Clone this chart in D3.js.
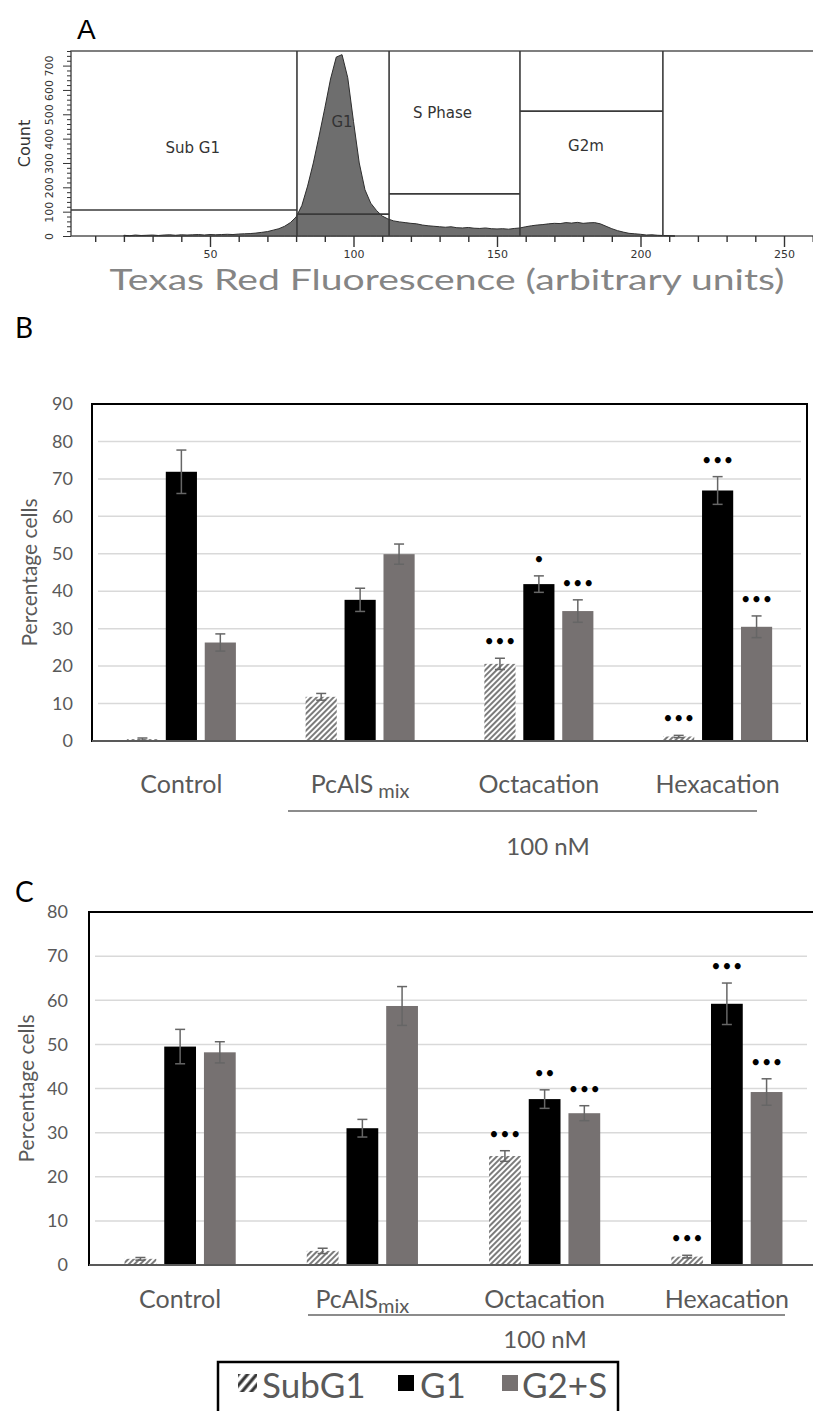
<!DOCTYPE html>
<html>
<head>
<meta charset="utf-8">
<script src="https://cdn.jsdelivr.net/npm/d3@7"></script>
<style>
  body { margin: 0; background: #fff; }
  svg { display: block; }
</style>
</head>
<body>
<div id="chart"></div>
<script>
const width = 813;
const height = 1411;

// ---------- panel A : DNA histogram ----------
const histBins = [
  20,22,24,26,28,30,32,34,36,38,
  40,42,44,46,48,50,52,54,56,58,
  60,62,64,66,68,70,72,74,76,78,
  80,82,84,86,88,90,92,94,96,98,
  100,102,104,106,108,110,112,114,116,118,
  120,122,124,126,128,130,132,134,136,138,
  140,142,144,146,148,150,152,154,156,158,
  160,162,164,166,168,170,172,174,176,178,
  180,182,184,186,188,190,192,194,196,198,
  200,202,204,206,208,210,212
];
const histCounts = [
  3,1,4,2,3,4,2,4,5,3,
  5,4,5,6,4,6,5,6,7,6,
  8,9,10,12,15,18,24,30,40,55,
  78,125,205,300,410,525,645,735,745,650,
  470,300,190,135,105,82,70,62,58,55,
  52,50,45,42,40,38,36,38,34,33,
  35,32,31,33,30,29,30,28,31,33,
  38,42,45,47,50,52,51,55,53,56,
  52,54,55,50,40,30,22,16,11,9,
  7,4,5,3,2,1,0
];
const gateNames = ["Sub G1", "G1", "S Phase", "G2m"];
const gateStart = [0, 80.3, 112.4, 158];
const gateEnd = [80.3, 112.4, 158, 207.8];
const gateLevel = [107, 90, 173, 513];
const gateLabelX = [44, 96, 131, 181];
const gateLabelY = [361, 468, 505, 370];
const xTicksA = [10,20,30,40,50,60,70,80,90,100,110,120,130,140,150,160,170,180,190,200,210,220,230,240,250,260];

// ---------- panels B and C : cell cycle bars ----------
const categories = ["Control", "PcAlS", "Octacation", "Hexacation"];
const series = ["SubG1", "G1", "G2+S"];

const bSubG1 = [0.5, 11.8, 20.6, 1.2];
const bSubG1Err = [0.3, 0.9, 1.5, 0.3];
const bSubG1Sig = [0, 0, 3, 3];
const bG1 = [71.9, 37.7, 41.9, 66.9];
const bG1Err = [5.8, 3.1, 2.2, 3.7];
const bG1Sig = [0, 0, 1, 3];
const bG2S = [26.3, 49.9, 34.7, 30.5];
const bG2SErr = [2.3, 2.7, 3.0, 2.9];
const bG2SSig = [0, 0, 3, 3];

const cSubG1 = [1.4, 3.2, 24.7, 1.9];
const cSubG1Err = [0.3, 0.6, 1.2, 0.3];
const cSubG1Sig = [0, 0, 3, 3];
const cG1 = [49.5, 31.0, 37.6, 59.2];
const cG1Err = [3.9, 2.0, 2.1, 4.7];
const cG1Sig = [0, 0, 2, 3];
const cG2S = [48.2, 58.7, 34.4, 39.2];
const cG2SErr = [2.4, 4.4, 1.7, 3.0];
const cG2SSig = [0, 0, 3, 3];

const barColor = {"SubG1": "url(#hatch)", "G1": "#000000", "G2+S": "#767171"};
const textGray = "#595959";

const svg = d3.select("#chart").append("svg")
  .attr("width", width)
  .attr("height", height);

// hatch patterns
const defs = svg.append("defs");
defs.append("pattern")
  .attr("id", "hatch")
  .attr("patternUnits", "userSpaceOnUse")
  .attr("width", 4).attr("height", 4)
  .attr("patternTransform", "rotate(45)")
  .call(p => p.append("rect").attr("width", 4).attr("height", 4).attr("fill", "#fff"))
  .append("line")
  .attr("x1", 1).attr("y1", 0).attr("x2", 1).attr("y2", 4)
  .attr("stroke", "#5a5a5a").attr("stroke-width", 1.6);
defs.append("pattern")
  .attr("id", "hatchBig")
  .attr("patternUnits", "userSpaceOnUse")
  .attr("width", 7).attr("height", 7)
  .attr("patternTransform", "rotate(40)")
  .append("line")
  .attr("x1", 2).attr("y1", 0).attr("x2", 2).attr("y2", 7)
  .attr("stroke", "#333").attr("stroke-width", 3.2);

// ================= panel A =================
const frameA = {left: 71, top: 51, right: 830, bottom: 236};
const xA = d3.scaleLinear().domain([0, 260]).range([66.5, 812.7]);
const yA = d3.scaleLinear().domain([0, 760]).range([frameA.bottom, frameA.top]);

svg.append("text")
  .attr("x", 77).attr("y", 39)
  .attr("font-family", "Liberation Sans, Arial, sans-serif")
  .attr("font-size", 28)
  .text("A");

svg.append("rect")
  .attr("x", frameA.left).attr("y", frameA.top)
  .attr("width", frameA.right - frameA.left)
  .attr("height", frameA.bottom - frameA.top)
  .attr("fill", "none").attr("stroke", "#555").attr("stroke-width", 1.5);

const histData = histBins.map((b, i) => ({x: b, c: histCounts[i]}));
const area = d3.area()
  .x(d => xA(d.x))
  .y0(yA(0))
  .y1(d => yA(d.c));
svg.append("path")
  .datum(histData)
  .attr("d", area)
  .attr("fill", "#6e6e6e")
  .attr("stroke", "#2e2e2e")
  .attr("stroke-width", 1);

// gates
gateNames.forEach((g, i) => {
  const gg = svg.append("g").attr("stroke", "#3a3a3a").attr("stroke-width", 1.6);
  gg.append("line")
    .attr("x1", Math.max(xA(gateStart[i]), frameA.left)).attr("x2", xA(gateEnd[i]))
    .attr("y1", yA(gateLevel[i])).attr("y2", yA(gateLevel[i]));
  gg.append("line")
    .attr("x1", xA(gateEnd[i])).attr("x2", xA(gateEnd[i]))
    .attr("y1", frameA.top).attr("y2", frameA.bottom);
  svg.append("text")
    .attr("x", xA(gateLabelX[i])).attr("y", yA(gateLabelY[i]))
    .attr("text-anchor", "middle").attr("dominant-baseline", "central")
    .attr("font-family", "DejaVu Sans, sans-serif")
    .attr("font-size", 15)
    .attr("fill", "#333")
    .text(g);
});

// x axis A
const xAxisA = svg.append("g")
  .attr("transform", `translate(0,${frameA.bottom})`)
  .call(d3.axisBottom(xA).tickValues(xTicksA).tickSize(6).tickFormat(d => d % 50 === 0 ? d : ""));
xAxisA.select(".domain").remove();
xAxisA.selectAll(".tick line").attr("stroke", "#333").attr("stroke-width", 1.4)
  .attr("y2", d => d % 50 === 0 ? 11 : 6);
xAxisA.selectAll(".tick text")
  .attr("y", 14)
  .attr("font-family", "DejaVu Sans, sans-serif")
  .attr("font-size", 11).attr("fill", "#333");

// y axis A
const yTicksA = d3.range(0, 761, 20);
const yAxisA = svg.append("g")
  .attr("transform", `translate(${frameA.left},0)`)
  .call(d3.axisLeft(yA).tickValues(yTicksA).tickSize(4).tickFormat(d => d % 100 === 0 ? d : ""));
yAxisA.select(".domain").remove();
yAxisA.selectAll(".tick line").attr("stroke", "#333").attr("stroke-width", 1)
  .attr("x2", d => d % 100 === 0 ? -8 : -4);
yAxisA.selectAll(".tick text")
  .attr("x", 0).attr("dy", "0.35em")
  .attr("text-anchor", "middle")
  .attr("transform", "translate(-22,0) rotate(-90)")
  .attr("font-family", "DejaVu Sans, sans-serif")
  .attr("font-size", 11).attr("fill", "#333");

svg.append("text")
  .attr("transform", `translate(24,${(frameA.top + frameA.bottom) / 2}) rotate(-90)`)
  .attr("text-anchor", "middle").attr("dominant-baseline", "central")
  .attr("font-family", "DejaVu Sans, sans-serif")
  .attr("font-size", 16).attr("fill", "#333")
  .text("Count");

svg.append("text")
  .attr("x", 447).attr("y", 290)
  .attr("text-anchor", "middle")
  .attr("font-family", "Lato, sans-serif")
  .attr("font-size", 28)
  .attr("textLength", 675).attr("lengthAdjust", "spacingAndGlyphs")
  .attr("fill", "#858585")
  .text("Texas Red Fluorescence (arbitrary units)");

// ================= panels B and C =================
function barPanel(cfg) {
  const y = d3.scaleLinear().domain([0, cfg.yMax]).range([cfg.base, cfg.top]);
  const x0 = d3.scaleBand().domain(categories).range([cfg.left, cfg.right])
    .paddingInner(0.39).paddingOuter(0.195);
  const x1 = d3.scaleBand().domain(series).range([0, x0.bandwidth()]).paddingInner(0.2);

  svg.append("text")
    .attr("x", 15).attr("y", cfg.letterY)
    .attr("font-family", "Lato, sans-serif")
    .attr("font-size", 28)
    .text(cfg.letter);

  // gridlines
  svg.append("g").selectAll("line")
    .data(d3.range(10, cfg.yMax, 10))
    .join("line")
    .attr("x1", cfg.left + 6).attr("x2", Math.min(cfg.right, width) - 6)
    .attr("y1", d => y(d)).attr("y2", d => y(d))
    .attr("stroke", "#d9d9d9").attr("stroke-width", 1.5);

  // y axis labels
  const yAxis = svg.append("g")
    .attr("transform", `translate(${cfg.left},0)`)
    .call(d3.axisLeft(y).tickValues(d3.range(0, cfg.yMax + 1, 10)).tickSize(0).tickPadding(cfg.labelPad));
  yAxis.select(".domain").remove();
  yAxis.selectAll(".tick text")
    .attr("font-family", "Lato, sans-serif")
    .attr("font-size", 18).attr("fill", textGray);

  svg.append("text")
    .attr("transform", `translate(${cfg.titleX},${(cfg.top + cfg.base) / 2}) rotate(-90)`)
    .attr("text-anchor", "middle").attr("dominant-baseline", "central")
    .attr("font-family", "Lato, sans-serif")
    .attr("font-size", 21).attr("fill", textGray)
    .text("Percentage cells");

  // rows
  const rows = [];
  categories.forEach((c, i) => {
    series.forEach((s, j) => {
      rows.push({cat: c, s: s, v: cfg.vals[j][i], e: cfg.errs[j][i], n: cfg.sig[j][i]});
    });
  });

  const g = svg.append("g");
  g.selectAll("rect")
    .data(rows)
    .join("rect")
    .attr("x", d => x0(d.cat) + x1(d.s))
    .attr("y", d => y(d.v))
    .attr("width", x1.bandwidth())
    .attr("height", d => y(0) - y(d.v))
    .attr("fill", d => barColor[d.s]);

  // error bars
  const eb = g.selectAll("g.err")
    .data(rows)
    .join("g")
    .attr("class", "err")
    .attr("stroke", "#666").attr("stroke-width", 1.5);
  const cx = d => x0(d.cat) + x1(d.s) + x1.bandwidth() / 2;
  eb.append("line")
    .attr("x1", cx).attr("x2", cx)
    .attr("y1", d => y(d.v - d.e)).attr("y2", d => y(d.v + d.e));
  eb.append("line")
    .attr("x1", d => cx(d) - 5).attr("x2", d => cx(d) + 5)
    .attr("y1", d => y(d.v + d.e)).attr("y2", d => y(d.v + d.e));
  eb.append("line")
    .attr("x1", d => cx(d) - 5).attr("x2", d => cx(d) + 5)
    .attr("y1", d => y(d.v - d.e)).attr("y2", d => y(d.v - d.e));

  // significance dots
  g.selectAll("text.sig")
    .data(rows.filter(d => d.n > 0))
    .join("text")
    .attr("class", "sig")
    .attr("x", cx)
    .attr("y", d => y(d.v + d.e) - 16)
    .attr("text-anchor", "middle").attr("dominant-baseline", "central")
    .attr("font-family", "DejaVu Sans, sans-serif")
    .attr("font-weight", "bold")
    .attr("font-size", 17)
    .text(d => "\u2022".repeat(d.n));

  // frame and baseline
  svg.append("rect")
    .attr("x", cfg.left).attr("y", cfg.top)
    .attr("width", cfg.right - cfg.left).attr("height", cfg.base - cfg.top)
    .attr("fill", "none").attr("stroke", "#000").attr("stroke-width", 2);
  svg.append("line")
    .attr("x1", cfg.left).attr("x2", cfg.right)
    .attr("y1", y(0)).attr("y2", y(0))
    .attr("stroke", "#595959").attr("stroke-width", 2);

  // category labels
  const lab = svg.append("g").selectAll("text")
    .data(categories)
    .join("text")
    .attr("x", d => x0(d) + x0.bandwidth() / 2)
    .attr("y", cfg.catY)
    .attr("text-anchor", "middle").attr("dominant-baseline", "central")
    .attr("font-family", "Lato, sans-serif")
    .attr("font-size", 25).attr("fill", textGray);
  lab.each(function(d) {
    const t = d3.select(this);
    if (d === "PcAlS") {
      t.append("tspan").text("PcAlS");
      t.append("tspan").attr("dy", 7).attr("dx", cfg.subGap).attr("font-size", 20).text("mix");
    } else {
      t.text(d);
    }
  });

  svg.append("line")
    .attr("x1", cfg.lineFrom).attr("x2", cfg.lineTo)
    .attr("y1", cfg.lineY).attr("y2", cfg.lineY)
    .attr("stroke", "#8c8c8c").attr("stroke-width", 2);
  svg.append("text")
    .attr("x", cfg.concX).attr("y", cfg.concY)
    .attr("text-anchor", "middle").attr("dominant-baseline", "central")
    .attr("font-family", "Lato, sans-serif")
    .attr("font-size", 24).attr("fill", textGray)
    .text("100 nM");
}

barPanel({
  letter: "B", letterY: 338,
  left: 92, right: 807, top: 404, base: 741, yMax: 90,
  labelPad: 19, titleX: 28,
  vals: [bSubG1, bG1, bG2S], errs: [bSubG1Err, bG1Err, bG2SErr], sig: [bSubG1Sig, bG1Sig, bG2SSig],
  catY: 783, subGap: 5,
  lineFrom: 288, lineTo: 757, lineY: 811,
  concX: 548, concY: 845
});

barPanel({
  letter: "C", letterY: 902,
  left: 89, right: 818, top: 912, base: 1265, yMax: 80,
  labelPad: 21, titleX: 25,
  vals: [cSubG1, cG1, cG2S], errs: [cSubG1Err, cG1Err, cG2SErr], sig: [cSubG1Sig, cG1Sig, cG2SSig],
  catY: 1298, subGap: 0,
  lineFrom: 308, lineTo: 785, lineY: 1315,
  concX: 545, concY: 1338
});

// ================= legend =================
const legend = svg.append("g");
legend.append("rect")
  .attr("x", 218).attr("y", 1362)
  .attr("width", 400).attr("height", 70)
  .attr("fill", "#fff").attr("stroke", "#000").attr("stroke-width", 2.5);

const legendX = d3.scaleOrdinal().domain(series).range([238, 398, 502]);
const legendLabelX = d3.scaleOrdinal().domain(series).range([262, 420, 522]);
legend.selectAll("rect.key")
  .data(series)
  .join("rect")
  .attr("class", "key")
  .attr("x", d => legendX(d))
  .attr("y", d => d === "SubG1" ? 1374 : 1375)
  .attr("width", d => d === "SubG1" ? 19 : 16)
  .attr("height", d => d === "SubG1" ? 18 : 16)
  .attr("fill", d => d === "SubG1" ? "url(#hatchBig)" : barColor[d]);
legend.selectAll("text")
  .data(series)
  .join("text")
  .attr("x", d => legendLabelX(d))
  .attr("y", 1384)
  .attr("dominant-baseline", "central")
  .attr("font-family", "Lato, sans-serif")
  .attr("font-size", 35).attr("fill", textGray)
  .text(d => d);
</script>
</body>
</html>
